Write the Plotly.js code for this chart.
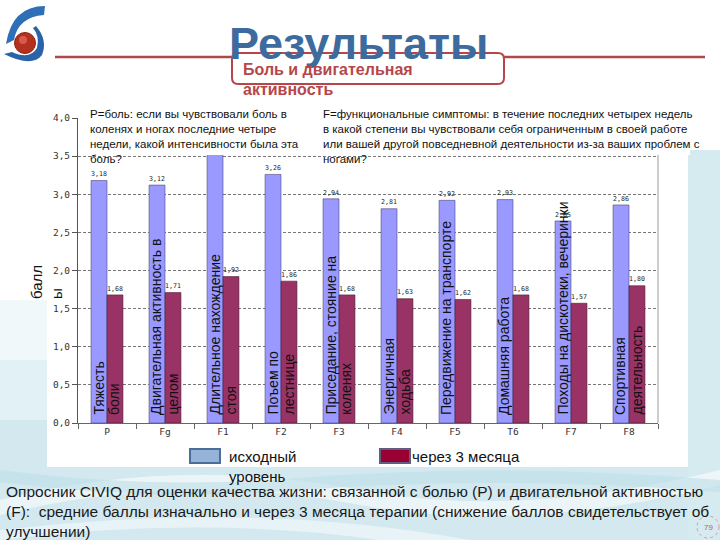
<!DOCTYPE html>
<html>
<head>
<meta charset="utf-8">
<script src="https://cdn.plot.ly/plotly-3.0.1.min.js"></script>
<style>html,body{margin:0;padding:0;background:#fff;}#chart{width:720px;height:540px;}</style>
</head>
<body>
<div id="chart"></div>
<script>
// ---- data ----
const categories = ['P', 'Fg', 'F1', 'F2', 'F3', 'F4', 'F5', 'T6', 'F7', 'F8'];
const baselineScores = [3.18, 3.12, 3.62, 3.26, 2.94, 2.81, 2.92, 2.93, 2.65, 2.86];
const after3Months = [1.68, 1.71, 1.92, 1.86, 1.68, 1.63, 1.62, 1.68, 1.57, 1.80];
const blueBarLabels = ['Тяжесть', 'Двигательная активность в', 'Длительное нахождение', 'Поъем по',
  'Приседание, стояние на', 'Энергичная', 'Передвижение на транспорте', 'Домашняя работа',
  'Походы на дискотеки, вечеринки', 'Спортивная'];
const redBarLabels = ['боли', 'целом', 'стоя', 'лестнице', 'коленях', 'ходьба', '', '', '', 'деятельность'];
const yTickValues = [0, 0.5, 1, 1.5, 2, 2.5, 3, 3.5, 4];
const seriesNames = ['исходный уровень', 'через 3 месяца'];
const visibleTop = 3.5; // values above this are hidden under the text boxes

// ---- geometry helpers (plot area in pixels) ----
const W = 720, H = 540;
const PL = 78, PR = 658, PT = 118, PB = 423;
const fx = px => (px - PL) / (PR - PL);
const fy = py => (PB - py) / (PB - PT);
function path(cmds) {
  let out = '', nums = [];
  cmds.forEach(c => {
    if (typeof c === 'string') { out += c + ' '; }
    else { nums.push(c); if (nums.length === 2) { out += fx(nums[0]).toFixed(5) + ',' + fy(nums[1]).toFixed(5) + ' '; nums = []; } }
  });
  return out.trim();
}
function rectP(x0, y0, x1, y1, fill, layer, extra) {
  return Object.assign({type: 'rect', xref: 'paper', yref: 'paper', x0: fx(x0), x1: fx(x1), y0: fy(y1), y1: fy(y0),
    fillcolor: fill, line: {width: 0}, layer: layer || 'below'}, extra || {});
}
function lineP(x0, y0, x1, y1, color, width, layer) {
  return {type: 'line', xref: 'paper', yref: 'paper', x0: fx(x0), x1: fx(x1), y0: fy(y0), y1: fy(y1),
    line: {color: color, width: width}, layer: layer || 'above'};
}
function annP(px, py, text, opts) {
  return Object.assign({xref: 'paper', yref: 'paper', x: fx(px), y: fy(py), text: text, showarrow: false}, opts || {});
}

// ---- traces ----
const valFont = {family: 'DejaVu Sans Mono', size: 10, color: '#222'};
const traces = [
  {type: 'bar', x: categories, y: baselineScores, name: seriesNames[0],
   marker: {color: '#9999ff', line: {color: '#4a4a7a', width: 0.6}},
   texttemplate: baselineScores.map(v => v > visibleTop ? '' : '%{y:.2f}'), textposition: 'outside', cliponaxis: true,
   textfont: valFont, hoverinfo: 'skip'},
  {type: 'bar', x: categories, y: after3Months, name: seriesNames[1],
   marker: {color: '#993366', line: {color: '#4a2030', width: 0.6}},
   texttemplate: '%{y:.2f}', textposition: 'outside', cliponaxis: true,
   textfont: valFont, hoverinfo: 'skip'}
];

// ---- shapes ----
const shapes = [];
// slide background
shapes.push(rectP(0, 300, 720, 360, 'rgba(214,235,241,0.35)'));
shapes.push(rectP(0, 360, 720, 420, 'rgba(214,235,241,0.7)'));
shapes.push(rectP(0, 420, 720, 540, '#d3e9ef'));
shapes.push(rectP(688, 150, 720, 540, '#d6ebf0'));
shapes.push({type: 'path', xref: 'paper', yref: 'paper', layer: 'below', line: {width: 0}, fillcolor: 'rgba(255,255,255,0.55)',
  path: path(['M', 0, 500, 'Q', 180, 455, 360, 490, 'Q', 520, 520, 720, 470, 'L', 720, 485, 'Q', 520, 535, 360, 505, 'Q', 180, 470, 0, 515, 'Z'])});
shapes.push({type: 'path', xref: 'paper', yref: 'paper', layer: 'below', line: {width: 0}, fillcolor: 'rgba(255,255,255,0.45)',
  path: path(['M', 0, 530, 'Q', 250, 500, 470, 540, 'L', 380, 540, 'Q', 200, 515, 0, 540, 'Z'])});
shapes.push({type: 'path', xref: 'paper', yref: 'paper', layer: 'below', line: {width: 0}, fillcolor: 'rgba(190,222,232,0.6)',
  path: path(['M', 0, 470, 'Q', 150, 490, 300, 478, 'Q', 500, 462, 720, 480, 'L', 720, 492, 'Q', 500, 475, 300, 490, 'Q', 150, 502, 0, 482, 'Z'])});
// white chart panel
shapes.push(rectP(47, 100, 688, 467, '#ffffff'));
// right border of plot area
shapes.push({type: 'line', xref: 'paper', yref: 'paper', x0: 1, x1: 1, y0: 0, y1: 1, line: {color: '#9a9a9a', width: 1}, layer: 'below'});
// white text box area covering the top of the plot
shapes.push(rectP(85, 104, 690, 155, '#ffffff', 'above'));
// header rule and subtitle box
shapes.push(lineP(55, 57, 232, 57, '#b04848', 2.5));
shapes.push(lineP(504, 57, 705, 57, '#b04848', 2.5));
shapes.push({type: 'path', xref: 'paper', yref: 'paper', layer: 'above', fillcolor: 'rgba(0,0,0,0)', line: {color: '#b5474b', width: 2},
  path: path(['M', 238, 53, 'L', 498, 53, 'Q', 504, 53, 504, 59, 'L', 504, 78, 'Q', 504, 84, 498, 84, 'L', 238, 84, 'Q', 232, 84, 232, 78, 'L', 232, 59, 'Q', 232, 53, 238, 53, 'Z'])});
// logo
shapes.push({type: 'path', xref: 'paper', yref: 'paper', layer: 'above', line: {width: 0}, fillcolor: '#2f6fb7',
  path: path(['M', 45, 6, 'Q', 12, 6, 6, 44, 'L', 14, 40, 'Q', 18, 17, 44, 15, 'Z'])});
shapes.push({type: 'path', xref: 'paper', yref: 'paper', layer: 'above', line: {width: 0}, fillcolor: '#2a63a8',
  path: path(['M', 36, 26, 'Q', 48, 40, 42, 55, 'Q', 32, 68, 4, 54, 'L', 12, 52, 'Q', 30, 60, 37, 48, 'Q', 40, 36, 33, 28, 'Z'])});
shapes.push({type: 'circle', xref: 'paper', yref: 'paper', layer: 'above', x0: fx(14.5), x1: fx(35.5), y0: fy(53.5), y1: fy(32.5),
  fillcolor: '#b5301f', line: {color: '#8a2215', width: 1}});
shapes.push({type: 'circle', xref: 'paper', yref: 'paper', layer: 'above', x0: fx(19), x1: fx(27), y0: fy(44), y1: fy(36),
  fillcolor: 'rgba(240,130,110,0.55)', line: {width: 0}});
// legend swatches
shapes.push(rectP(190, 449, 220, 463, '#95b3d7', 'above', {line: {color: '#4a6d9a', width: 2}}));
shapes.push(rectP(380, 449, 410, 463, '#990033', 'above', {line: {color: '#5e5e80', width: 2}}));
// page number circle
shapes.push({type: 'circle', xref: 'paper', yref: 'paper', layer: 'above', x0: fx(697), x1: fx(719), y0: fy(538), y1: fy(516),
  fillcolor: 'rgba(0,0,0,0)', line: {color: '#d99a9a', width: 1, dash: 'dot'}});

// ---- annotations ----
const annotations = [];
const boxFont = {family: 'Liberation Sans, Arial', size: 11.5, color: '#111'};
annotations.push(annP(88, 106, 'P=боль: если вы чувствовали боль в<br>коленях и ногах последние четыре<br>недели, какой интенсивности была эта<br>боль?',
  {xanchor: 'left', yanchor: 'top', align: 'left', font: boxFont}));
annotations.push(annP(321, 106, 'F=функциональные симптомы: в течение последних четырех недель<br>в какой степени вы чувствовали себя ограниченным в своей работе<br>или вашей другой повседневной деятельности из-за ваших проблем с<br>ногами?',
  {xanchor: 'left', yanchor: 'top', align: 'left', font: boxFont}));
// y axis title
annotations.push(annP(46, 282, 'балл<br>ы', {textangle: -90, xanchor: 'center', yanchor: 'middle', align: 'left',
  font: {family: 'Liberation Sans, Arial', size: 15, color: '#111'}}));
// in-bar category labels
categories.forEach((c, i) => {
  if (blueBarLabels[i]) annotations.push({x: c, y: 0, xref: 'x', yref: 'y', text: blueBarLabels[i], showarrow: false,
    textangle: -90, xanchor: 'center', yanchor: 'bottom', xshift: -9, yshift: 6,
    font: {family: 'Liberation Sans, Arial', size: 14, color: '#111'}});
  if (redBarLabels[i]) annotations.push({x: c, y: 0, xref: 'x', yref: 'y', text: redBarLabels[i], showarrow: false,
    textangle: -90, xanchor: 'center', yanchor: 'bottom', xshift: 7, yshift: 6,
    font: {family: 'Liberation Sans, Arial', size: 14, color: '#111'}});
});
// title
annotations.push(annP(358, 44, 'Результаты', {xanchor: 'center', yanchor: 'middle',
  font: {family: 'Liberation Sans, Arial', size: 45, color: '#3d6b9e', weight: 'bold'}}));
annotations.push(annP(241, 70, 'Боль и двигательная', {xanchor: 'left', yanchor: 'middle',
  font: {family: 'Liberation Sans, Arial', size: 16, color: '#b5474b', weight: 'bold'}}));
annotations.push(annP(241, 89, 'активность', {xanchor: 'left', yanchor: 'middle',
  font: {family: 'Liberation Sans, Arial', size: 16, color: '#b5474b', weight: 'bold'}}));
// legend texts
annotations.push(annP(227, 446, 'исходный<br>уровень', {xanchor: 'left', yanchor: 'top', align: 'left',
  font: {family: 'Liberation Sans, Arial', size: 15, color: '#111'}}));
annotations.push(annP(410, 456, 'через 3 месяца', {xanchor: 'left', yanchor: 'middle',
  font: {family: 'Liberation Sans, Arial', size: 15, color: '#111'}}));
// footer text
annotations.push(annP(4, 481, 'Опросник CIVIQ для оценки качества жизни: связанной с болью (P) и двигательной активностью<br>(F):  средние баллы изначально и через 3 месяца терапии (снижение баллов свидетельствует об<br>улучшении)',
  {xanchor: 'left', yanchor: 'top', align: 'left',
   font: {family: 'Liberation Sans, Arial, sans-serif', size: 15.5, color: '#1a1a1a'}}));
annotations.push(annP(708, 527, '79', {xanchor: 'center', yanchor: 'middle',
  font: {family: 'Liberation Sans, Arial', size: 8, color: '#c06060'}}));

const layout = {
  width: W, height: H, autosize: false,
  margin: {l: PL, r: W - PR, t: PT, b: H - PB, pad: 0},
  paper_bgcolor: '#ffffff', plot_bgcolor: 'rgba(0,0,0,0)',
  separators: ', ',
  showlegend: false,
  barmode: 'group', bargap: 0.45, bargroupgap: 0,
  xaxis: {type: 'category', showgrid: false, showline: true, linecolor: '#666', linewidth: 1,
    ticks: 'outside', tickson: 'boundaries', ticklen: 5, tickcolor: '#666',
    tickfont: {family: 'DejaVu Sans Mono', size: 9.5, color: '#333'}, fixedrange: true},
  yaxis: {range: [0, 4], tickvals: yTickValues, tickformat: '.1f', showline: true, linecolor: '#555', linewidth: 1,
    ticks: 'outside', ticklen: 5, tickcolor: '#555', zeroline: false,
    showgrid: true, gridcolor: '#777', griddash: '3px,2px', gridwidth: 1,
    tickfont: {family: 'DejaVu Sans Mono', size: 9.5, color: '#333'}, fixedrange: true},
  shapes: shapes,
  annotations: annotations
};
Plotly.newPlot('chart', traces, layout, {displayModeBar: false, staticPlot: true});
</script>
</body>
</html>
